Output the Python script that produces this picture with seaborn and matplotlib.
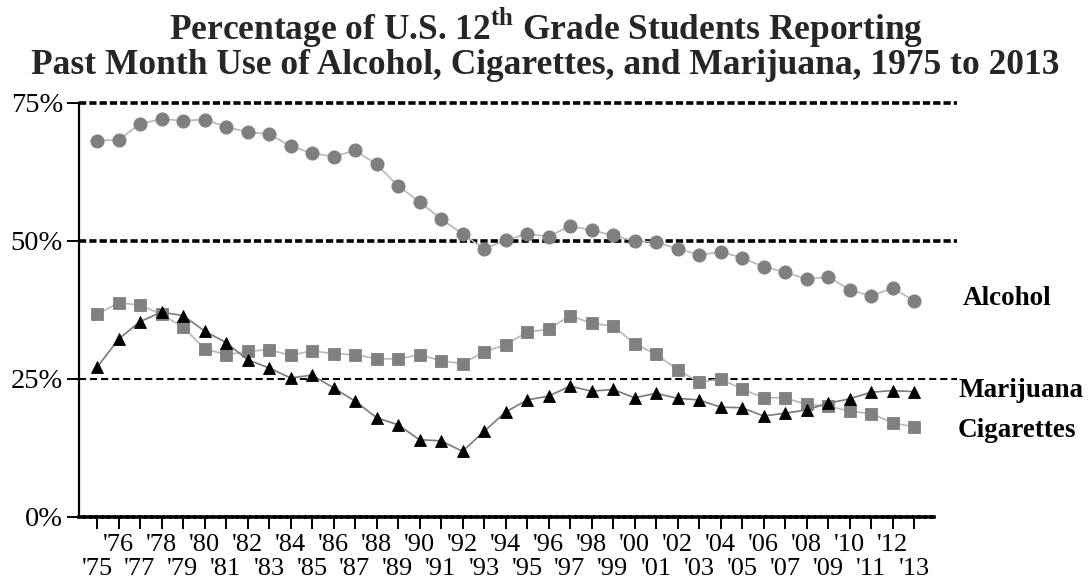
import numpy as np
import pandas as pd
import seaborn as sns
import matplotlib.pyplot as plt
from matplotlib.ticker import FixedLocator, FixedFormatter

# ==========================================
# 1. data
# ==========================================
years = list(range(1975, 2014))

alcohol = [68.2, 68.3, 71.2, 72.1, 71.8, 72.0, 70.7, 69.7, 69.4, 67.2,
           65.9, 65.3, 66.4, 63.9, 60.0, 57.1, 54.0, 51.3, 48.6, 50.1,
           51.3, 50.8, 52.7, 52.0, 51.0, 50.0, 49.8, 48.6, 47.5, 48.0,
           47.0, 45.3, 44.4, 43.1, 43.5, 41.2, 40.0, 41.5, 39.2]

cigarettes = [36.7, 38.8, 38.4, 36.7, 34.4, 30.5, 29.4, 30.0, 30.3, 29.3,
              30.1, 29.6, 29.4, 28.7, 28.6, 29.4, 28.3, 27.8, 29.9, 31.2,
              33.5, 34.0, 36.5, 35.1, 34.6, 31.4, 29.5, 26.7, 24.4, 25.0,
              23.2, 21.6, 21.6, 20.4, 20.1, 19.2, 18.7, 17.1, 16.3]

marijuana = [27.1, 32.2, 35.4, 37.1, 36.5, 33.7, 31.6, 28.5, 27.0, 25.2,
             25.7, 23.4, 21.0, 18.0, 16.7, 14.0, 13.8, 11.9, 15.5, 19.0,
             21.2, 21.9, 23.7, 22.8, 23.1, 21.6, 22.4, 21.5, 21.2, 19.9,
             19.8, 18.3, 18.8, 19.4, 20.6, 21.4, 22.6, 22.9, 22.7]

y_ticks = [0, 25, 50, 75]
y_labels = ['0%', '25%', '50%', '75%']

title = ("Percentage of U.S. 12$^{\\mathbf{th}}$ Grade Students Reporting\n"
         "Past Month Use of Alcohol, Cigarettes, and Marijuana, 1975 to 2013")

df = pd.DataFrame({'year': years, 'Alcohol': alcohol,
                   'Cigarettes': cigarettes, 'Marijuana': marijuana})

# ==========================================
# 2. style
# ==========================================
sns.set_theme(style="white")
plt.rcParams['font.family'] = ['Liberation Serif', 'DejaVu Serif']
plt.rcParams['mathtext.fontset'] = 'custom'
plt.rcParams['mathtext.bf'] = 'Liberation Serif:bold'
plt.rcParams['mathtext.rm'] = 'Liberation Serif'

fig = plt.figure(figsize=(10.91, 5.82), dpi=100)
ax = fig.add_axes([79 / 1091, 1 - 517 / 582, (957 - 79) / 1091, (517 - 103) / 582])

# series: (column, marker, marker colour, line colour, marker size)
series_style = [
    ('Alcohol', 'o', '#7f7f7f', '#b8b8b8', 9.5),
    ('Cigarettes', 's', '#808080', '#b8b8b8', 8.0),
    ('Marijuana', '^', '#000000', '#7a7a7a', 8.0),
]
for col, mk, mc, lc, ms in series_style:
    sns.lineplot(data=df, x='year', y=col, ax=ax, color=lc, linewidth=1.2,
                 marker=mk, markersize=ms, markerfacecolor=mc,
                 markeredgecolor=mc, markeredgewidth=0.6, zorder=3)

# dashed reference lines
ax.axhline(75, color='black', lw=2.6, ls=(0, (2.0, 0.85)), zorder=1, clip_on=False)
ax.axhline(50, color='black', lw=2.6, ls=(0, (2.0, 0.85)), zorder=1)
ax.axhline(25, color='black', lw=1.5, ls=(0, (3.4, 1.9)), zorder=1)

x0 = 1975 - 18 / 21.5
x1 = 1975 + (957 - 97) / 21.5
ax.set_xlim(x0, x1)
ax.set_ylim(0, 75)

# axes / spines
for s in ['top', 'right']:
    ax.spines[s].set_visible(False)
ax.spines['left'].set_color('black')
ax.spines['left'].set_linewidth(1.6)
ax.spines['bottom'].set_color('black')
ax.spines['bottom'].set_linewidth(2.6)
ax.spines['bottom'].set_linestyle((0, (1.2, 0.5)))
ax.spines['bottom'].set_bounds(x0, 2013.95)

# ticks: even years on top row, odd years on bottom row
even = [y for y in years if y % 2 == 0]
odd = [y for y in years if y % 2 == 1]
ax.xaxis.set_major_locator(FixedLocator(even))
ax.xaxis.set_major_formatter(FixedFormatter([f"'{y % 100:02d}" for y in even]))
ax.xaxis.set_minor_locator(FixedLocator(odd))
ax.xaxis.set_minor_formatter(FixedFormatter([f"'{y % 100:02d}" for y in odd]))
ax.tick_params(axis='x', which='both', direction='out', length=8.5, width=1.4,
               color='black', labelsize=19, labelcolor='black', bottom=True)
ax.tick_params(axis='x', which='major', pad=4)
ax.tick_params(axis='x', which='minor', pad=21)

ax.set_yticks(y_ticks)
ax.set_yticklabels(y_labels)
ax.tick_params(axis='y', direction='out', length=8.5, width=1.4, color='black',
               labelsize=20.5, labelcolor='black', pad=3, left=True)

ax.set_xlabel('')
ax.set_ylabel('')

# series labels at the right
label_pos = {'Alcohol': (x1 + 0.25, alcohol[-1] + 0.3),
             'Marijuana': (x1 + 0.05, 23.0),
             'Cigarettes': (x1 + 0.05, 15.6)}
for name, (xv, yv) in label_pos.items():
    ax.text(xv, yv, name, ha='left', va='center', fontsize=19.5,
            fontweight='bold', color='black', clip_on=False)

fig.text(0.5, 1 - 5 / 582, title, ha='center', va='top', fontsize=25.5,
         fontweight='bold', linespacing=0.98)

fig.savefig('out.png', dpi=100)
